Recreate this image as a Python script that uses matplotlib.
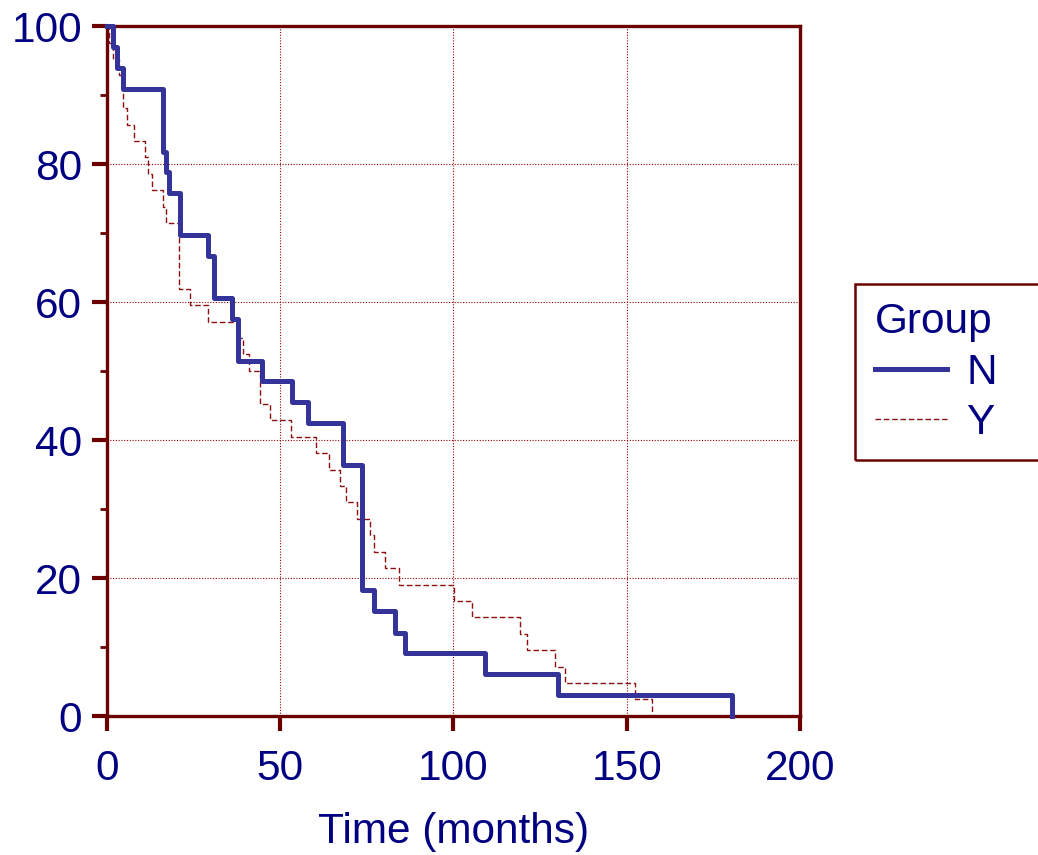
import matplotlib
matplotlib.use("Agg")
import matplotlib.pyplot as plt
from matplotlib.patches import Rectangle
from matplotlib.lines import Line2D
from matplotlib.ticker import MultipleLocator

# Kaplan-Meier steps (time in months, survival in %)
tiempo_n = [0, 1.8, 3.0, 4.7, 16.3, 17.0, 17.9, 21.1, 29.2, 30.9, 36.2, 37.9,
            44.8, 53.3, 58.1, 68.2, 73.5, 77.1, 83.1, 86.0, 109.1, 130.1, 180.3]
superv_n = [100, 97.0, 93.9, 90.9, 81.8, 78.8, 75.8, 69.7, 66.7, 60.6, 57.6, 51.5,
            48.5, 45.5, 42.4, 36.4, 18.2, 15.2, 12.1, 9.1, 6.1, 3.0, 0]

tiempo_y = [0, 0.6, 1.8, 3.5, 4.6, 5.9, 7.9, 11.0, 11.9, 13.1,
            16.3, 16.9, 20.8, 24.0, 29.1, 38.2, 39.3, 41.0, 44.2, 47.0,
            53.1, 60.2, 64.2, 67.1, 68.9, 72.1, 75.9, 77.1, 80.2, 84.3,
            100.1, 105.2, 119.2, 121.3, 129.2, 132.3, 152.4, 157.2]
superv_y = [100, 97.6, 95.2, 92.9, 88.1, 85.7, 83.3, 81.0, 78.6, 76.2,
            73.8, 71.4, 61.9, 59.5, 57.1, 54.8, 52.4, 50.0, 45.2, 42.9,
            40.5, 38.1, 35.7, 33.3, 31.0, 28.6, 26.2, 23.8, 21.4, 19.0,
            16.7, 14.3, 11.9, 9.5, 7.1, 4.8, 2.4, 0]

grupos = ["N", "Y"]
x_ticks = [0, 50, 100, 150, 200]
y_ticks = [0, 20, 40, 60, 80, 100]

azul = "#333399"
rojo = "#8b1111"
marron = "#6b0000"
texto = "#000080"

plt.rcParams['font.family'] = ['Liberation Sans', 'DejaVu Sans']
fs = 30.5

fig = plt.figure(figsize=(10.38, 8.55), dpi=100)
ax = fig.add_axes([107/1038, 1 - 716/855, (800-107)/1038, (716-26)/855])

ax.step(tiempo_y, superv_y, where='post', color=rojo, lw=1.0,
        linestyle=(0, (4, 2)), clip_on=False, zorder=3)
ax.step(tiempo_n, superv_n, where='post', color=azul, lw=3.6,
        clip_on=False, zorder=4)

ax.set_xlim(0, 200)
ax.set_ylim(0, 100)
ax.set_xticks(x_ticks)
ax.set_yticks(y_ticks)
ax.yaxis.set_minor_locator(MultipleLocator(10))
ax.grid(True, which='major', color='#990000', linestyle=(0, (1, 1.5)), lw=0.8)

for s in ax.spines.values():
    s.set_color(marron)
    s.set_linewidth(2.4)

ax.tick_params(axis='both', which='major', direction='out', length=11, width=3,
               color=marron, labelsize=fs, labelcolor=texto)
ax.tick_params(axis='x', which='major', pad=13)
ax.tick_params(axis='y', which='major', pad=7)
ax.tick_params(axis='y', which='minor', direction='out', length=5, width=2,
               color=marron)
ax.set_xlabel('Time (months)', fontsize=fs, color=texto, labelpad=16)

# legend box (runs off the right edge like the original)
fig.patches.append(Rectangle((855/1038, 1 - 460/855), 200/1038, 176/855,
                             transform=fig.transFigure, fill=False,
                             edgecolor=marron, lw=1.8))
handles = [Line2D([], [], color=azul, lw=3.6),
           Line2D([], [], color=rojo, lw=1.0, linestyle=(0, (4, 2)))]
leg = fig.legend(handles, grupos, title='Group', loc='upper left',
                 bbox_to_anchor=(875/1038, 1 - 302/855), frameon=False,
                 fontsize=fs, title_fontsize=fs, handlelength=1.7,
                 handletextpad=0.45, labelspacing=0.25, alignment='left',
                 borderpad=0, borderaxespad=0)
leg.get_title().set_color(texto)
for t in leg.get_texts():
    t.set_color(texto)

fig.savefig('out.png', dpi=100)
